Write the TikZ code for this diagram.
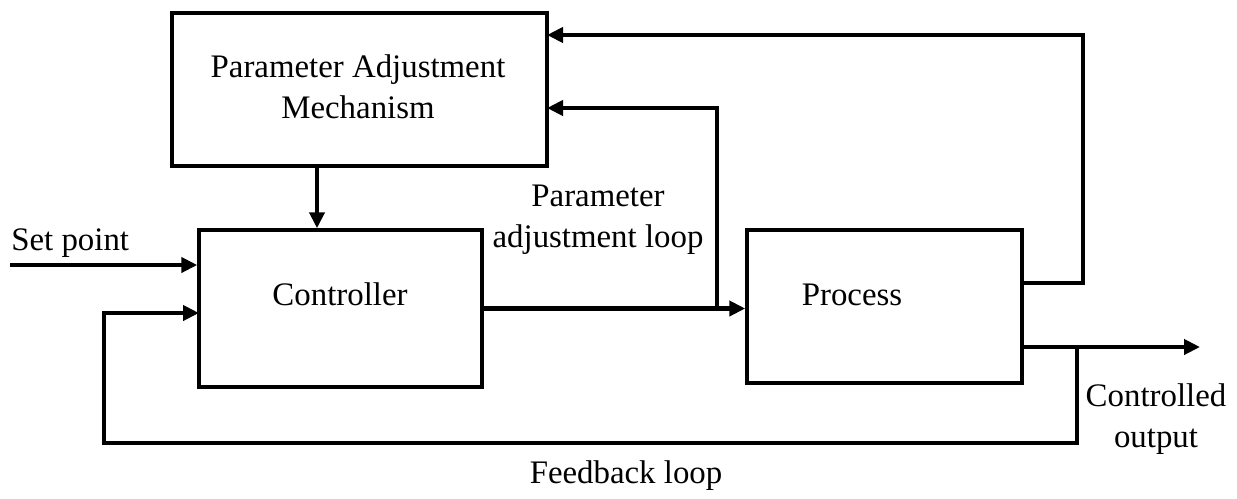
\documentclass[tikz,border=0pt]{standalone}
\usepackage{fontspec}
\setmainfont{Liberation Serif}
\usetikzlibrary{arrows.meta,positioning}
\tikzset{
  blk/.style={ draw, line width=2pt, inner sep=0pt }
}
\tikzset{
  lbl/.style={ inner sep=0pt, anchor=base, align=center, font=\fontsize{18.7}{22.8}\selectfont }
}
\tikzset{
  arr/.style={ line width=2.7pt, -{Triangle[length=0.32cm, width=0.3cm]} }
}

\begin{document}
\begin{tikzpicture}[x=0.02cm, y=-0.02cm]
      \useasboundingbox (0,0) rectangle (1237,498);
      % blocks
      \node[blk, minimum width=7.5cm, minimum height=3.06cm] (pam) at (359.5,89.5) {};
      \node[blk, minimum width=5.66cm, minimum height=3.14cm] (ctrl) at (340.5,308.5) {};
      \node[blk, minimum width=5.5cm, minimum height=3.06cm] (proc) at (884.5,306.5) {};
      \node[lbl] (pamtxt) at (358,118) {Parameter Adjustment\\Mechanism};
      \node[lbl] (ctrltxt) at (340,305) {Controller};
      \node[lbl] (proctxt) at (852,305) {Process};
      \node[lbl, anchor=base west] (sptxt) at (11,250) {Set point};
      \node[lbl] (adjtxt) at (598,247) {Parameter\\adjustment loop};
      \node[lbl] (outtxt) at (1156,447) {Controlled\\output};
      \node[lbl] (fbtxt) at (626,483) {Feedback loop};
      % taps and corners
      \coordinate (spin) at (10,265);
      \coordinate (pamtap) at (317,166);
      \coordinate (adjtap) at (717,308.5);
      \coordinate (adjin) at (547,108);
      \coordinate (procout) at (1022,283);
      \coordinate (pamin) at (547,35);
      \coordinate (outtap) at (1022,347);
      \coordinate (outend) at (1200,347);
      \coordinate (fbtap) at (1077,347);
      \coordinate (fbleft) at (104,443);
      \coordinate (fbin) at (199,313);
      % connectors
      \draw[arr] (spin) -- (spin -| ctrl.west);
      \draw[arr] (pamtap) -- (pamtap |- ctrl.north);
      \draw[arr] (ctrl.east) -- (ctrl.east -| proc.west);
      \draw[arr] (adjtap) |- (adjin);
      \draw[arr] (procout) -- ++(61,0) |- (pamin);
      \draw[arr] (outtap) -- (outend);
      \draw[arr] (fbtap) |- (fbleft) |- (fbin);
    \end{tikzpicture}
\end{document}
